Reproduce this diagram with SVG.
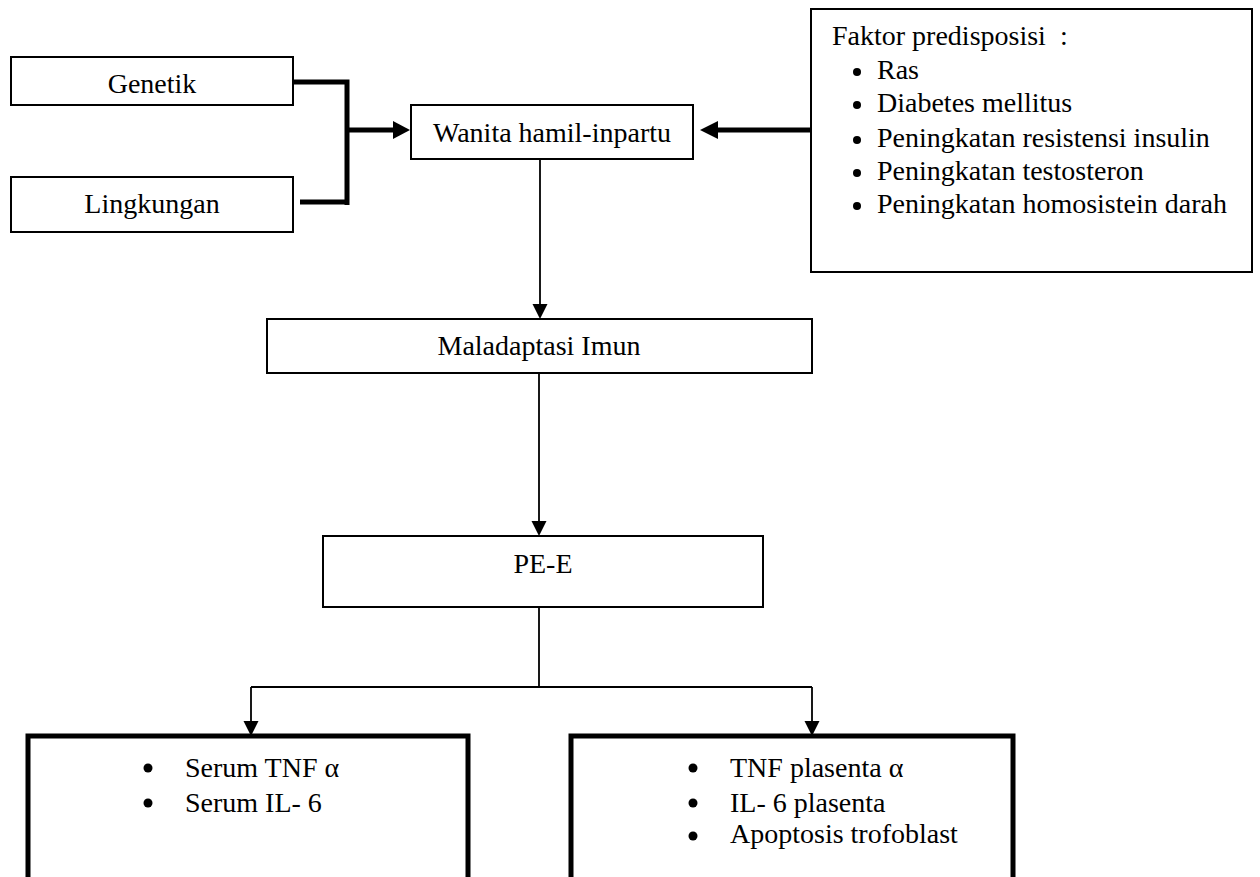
<svg xmlns="http://www.w3.org/2000/svg" width="1260" height="877" viewBox="0 0 1260 877">
<style>
text{font-family:"Liberation Serif","Times New Roman",serif;font-size:28px;fill:#000}
.c{text-anchor:middle}
.box{fill:#fff;stroke:#000;stroke-width:2}
.tbox{fill:#fff;stroke:#000;stroke-width:5}
.thick{fill:none;stroke:#000;stroke-width:5}
.thin{fill:none;stroke:#000;stroke-width:1.8}
</style>
<rect width="1260" height="877" fill="#fff"/>
<g id="connectors">
<path class="thick" d="M293 82H347V205M300 202H347M347 130H395"/>
<polygon points="410,130 393,121 393,139"/>
<path class="thick" d="M811 130H716"/>
<polygon points="700,130 718,121 718,139"/>
<path class="thin" d="M540 153V305"/>
<polygon points="540,319 532.5,304 547.5,304"/>
<path class="thin" d="M539 367V522"/>
<polygon points="539,536 531.5,521 546.5,521"/>
<path class="thin" d="M539 607V687M251 687H812M251 687V722M812 687V722"/>
<polygon points="251,736 243.5,721 258.5,721"/>
<polygon points="812,736 804.5,721 819.5,721"/>
</g>
<g id="genetik">
<rect class="box" x="11" y="57" width="282" height="48"/>
<text class="c" x="152" y="93">Genetik</text>
</g>
<g id="lingkungan">
<rect class="box" x="11" y="177" width="282" height="55"/>
<text class="c" x="152" y="213">Lingkungan</text>
</g>
<g id="wanita">
<rect class="box" x="411" y="105" width="282" height="54"/>
<text class="c" x="552" y="142">Wanita hamil-inpartu</text>
</g>
<g id="faktor">
<rect class="box" x="811" y="9" width="441" height="263"/>
<text x="832" y="45" xml:space="preserve">Faktor predisposisi  :</text>
<circle cx="857" cy="72" r="4"/>
<text x="877" y="79">Ras</text>
<circle cx="857" cy="105" r="4"/>
<text x="877" y="112">Diabetes mellitus</text>
<circle cx="857" cy="140" r="4"/>
<text x="877" y="147">Peningkatan resistensi insulin</text>
<circle cx="857" cy="173" r="4"/>
<text x="877" y="180">Peningkatan testosteron</text>
<circle cx="857" cy="206" r="4"/>
<text x="877" y="213">Peningkatan homosistein darah</text>
</g>
<g id="maladaptasi">
<rect class="box" x="267" y="319" width="545" height="54"/>
<text class="c" x="539" y="355">Maladaptasi Imun</text>
</g>
<g id="pee">
<rect class="box" x="323" y="536" width="440" height="71"/>
<text class="c" x="543" y="573">PE-E</text>
</g>
<g id="serum">
<rect class="tbox" x="28" y="736" width="440" height="160"/>
<circle cx="148" cy="768" r="4.5"/>
<text x="185" y="777">Serum TNF α</text>
<circle cx="148" cy="803" r="4.5"/>
<text x="185" y="812">Serum IL- 6</text>
</g>
<g id="plasenta">
<rect class="tbox" x="571" y="736" width="442" height="160"/>
<circle cx="693" cy="768" r="4.5"/>
<text x="730" y="777">TNF plasenta α</text>
<circle cx="693" cy="803" r="4.5"/>
<text x="730" y="812">IL- 6 plasenta</text>
<circle cx="693" cy="836" r="4.5"/>
<text x="730" y="843">Apoptosis trofoblast</text>
</g>
</svg>
